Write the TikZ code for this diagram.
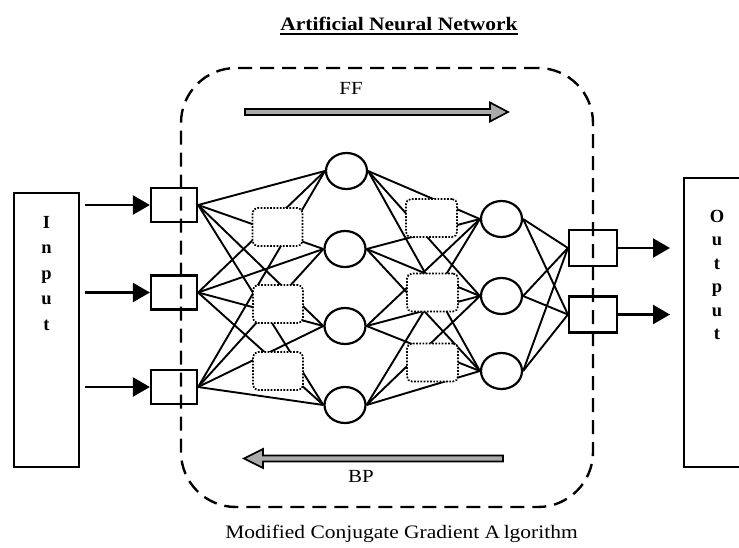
\documentclass[tikz,border=0pt]{standalone}
\usepackage{fontspec}
\setmainfont{Liberation Serif}
\usepackage{graphicx}
\usetikzlibrary{arrows.meta,shapes.geometric}
\begin{document}
\begin{tikzpicture}[x=1pt,y=-1pt,
  sq/.style={draw, line width=2.2pt, minimum width=46pt, minimum height=34pt, inner sep=0pt},
  neuron/.style={draw, ellipse, line width=2.2pt, minimum width=41pt, minimum height=36pt, inner sep=0pt},
  wbox/.style={draw, fill=white, line width=1.7pt, dash pattern=on 1.7pt off 1.5pt, rounded corners=5pt, minimum width=50pt, minimum height=38pt, inner sep=0pt},
  link/.style={line width=1.9pt},
  iobox/.style={draw, line width=2.5pt, inner sep=0pt},
  ioarrow/.style={line width=2.3pt, -{Triangle[length=17pt,width=19pt]}},
  letters/.style={font=\bfseries\fontsize{18.5}{25.5}\selectfont, align=center, inner sep=0pt, anchor=north},
  bigarrow/.style={draw=black, fill=black!33, line width=1.7pt, line join=miter},
  lbl/.style={inner sep=0pt, anchor=base}
]
\clip (0,0) rectangle (739,547);
\useasboundingbox (0,0) rectangle (739,547);

% title
\node[lbl, font=\bfseries\fontsize{19}{22}\selectfont] (title) at (399,30) {\scalebox{1.13}[1]{Artificial Neural Network}};
\draw[line width=2pt] ([yshift=-4pt]title.south west) -- ([yshift=-4pt]title.south east);

% input / output boxes
\node[iobox, minimum width=65pt, minimum height=274pt] (inbox) at (46.5,330) {};
\node[letters] (inlet) at (46.5,216) {I\\n\\p\\u\\t};
\node[iobox, minimum width=65pt, minimum height=289pt] (outbox) at (716.5,322.5) {};
\node[letters, font=\bfseries\fontsize{18.5}{23.5}\selectfont] (outlet) at (717,210) {O\\u\\t\\p\\u\\t};

% input squares
\node[sq] (i1) at (174,205) {};
\node[sq] (i2) at (174,292.5) {};
\node[sq] (i3) at (174,387) {};
\coordinate (a1) at (85,205);
\coordinate (a2) at (85,292.5);
\coordinate (a3) at (85,387);
\draw[ioarrow] (a1) -- (i1.west);
\draw[ioarrow] (a2) -- (i2.west);
\draw[ioarrow] (a3) -- (i3.west);

% hidden layer 1
\node[neuron] (h1) at (346.5,171) {};
\node[neuron] (h2) at (345,249) {};
\node[neuron] (h3) at (345,326) {};
\node[neuron] (h4) at (345,405) {};
% hidden layer 2
\node[neuron] (g1) at (501.5,219) {};
\node[neuron] (g2) at (501.5,296) {};
\node[neuron] (g3) at (501.5,371) {};
% output squares
\node[sq, minimum width=48pt, minimum height=36pt] (o1) at (593,248) {};
\node[sq, minimum width=48pt, minimum height=36pt] (o2) at (593,314.5) {};
\coordinate (b1) at (670,248);
\coordinate (b2) at (670,314.5);
\draw[ioarrow] (o1.east) -- (b1);
\draw[ioarrow] (o2.east) -- (b2);

% links
\foreach \i in {1,2,3}{\foreach \h in {1,2,3,4}{\draw[link] (i\i.east) -- (h\h.west);}}
\foreach \h in {1,2,3,4}{\foreach \g in {1,2,3}{\draw[link] (h\h.east) -- (g\g.west);}}
\foreach \g in {1,2,3}{\foreach \o in {1,2}{\draw[link] (g\g.east) -- (o\o.west);}}

% weight boxes
\node[wbox] (w1) at (277.5,227) {};
\node[wbox] (w2) at (278,304) {};
\node[wbox] (w3) at (278,371) {};
\node[wbox, minimum width=51pt] (v1) at (431.5,218) {};
\node[wbox, minimum width=51pt] (v2) at (432.5,292.5) {};
\node[wbox, minimum width=51pt] (v3) at (432.5,362.5) {};

% dashed algorithm boundary
\node[draw, line width=2.4pt, dash pattern=on 14pt off 8pt, rounded corners=55pt, minimum width=412pt, minimum height=439pt, inner sep=0pt] (mcg) at (387,287.5) {};

% FF / BP arrows
\draw[bigarrow] (245,109) -- (490,109) -- (490,102.5) -- (508,112) -- (490,121.5) -- (490,115) -- (245,115) -- cycle;
\node[lbl, font=\fontsize{18.5}{21}\selectfont] (ff) at (351,94) {\scalebox{1.13}[1]{FF}};
\draw[bigarrow] (503,455.5) -- (263,455.5) -- (263,449) -- (244,458.5) -- (263,468) -- (263,461.5) -- (503,461.5) -- cycle;
\node[lbl, font=\fontsize{18.5}{21}\selectfont] (bp) at (361,482) {\scalebox{1.13}[1]{BP}};

% caption
\node[lbl, font=\fontsize{19}{22}\selectfont] (cap) at (401.5,538) {\scalebox{1.13}[1]{Modified Conjugate Gradient A\,lgorithm}};
\end{tikzpicture}
\end{document}
